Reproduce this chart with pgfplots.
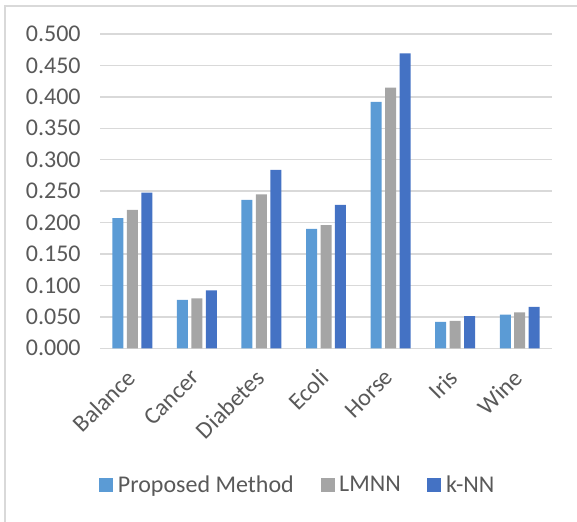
\documentclass[border=0pt]{standalone}
\usepackage{fontspec}
\setmainfont{Carlito}
\usepackage{pgfplots}
\pgfplotsset{compat=1.18}
\definecolor{cA}{HTML}{5B9BD5}
\definecolor{cB}{HTML}{A5A5A5}
\definecolor{cC}{HTML}{4472C4}
\definecolor{txt}{HTML}{595959}
\definecolor{gridc}{HTML}{D9D9D9}
\begin{document}
\begin{tikzpicture}
\useasboundingbox (0pt,0pt) rectangle (432.75pt,-390.75pt);
\draw[gridc, line width=1.2pt] (3.75pt,-400pt) -- (3.75pt,-4.5pt) -- (440pt,-4.5pt);
\begin{axis}[
  at={(75pt,-261.2pt)}, anchor=south west,
  scale only axis, width=339pt, height=235.7pt,
  ybar=2.6pt, bar width=8.25pt,
  xmin=-0.5, xmax=6.5, ymin=0, ymax=0.5,
  xtick={0,...,6},
  xticklabels={Balance,Cancer,Diabetes,Ecoli,Horse,Iris,Wine},
  ytick={0,0.05,...,0.5},
  axis line style={draw=none},
  major tick style={draw=none},
  ymajorgrids, grid style={gridc, line width=1pt},
  /pgf/number format/assume math mode=true,
  yticklabel={\pgfmathprintnumber[fixed,fixed zerofill,precision=3]{\tick}},
  yticklabel style={text=txt, font=\fontsize{18}{18}\selectfont, xshift=-11pt},
  xticklabel style={text=txt, font=\fontsize{18}{18}\selectfont, rotate=45, anchor=north east, xshift=-7.75pt, yshift=-0.1pt},
  legend style={at={(0.437,-0.435)}, anchor=center, draw=none, fill=none,
    legend columns=3, font=\fontsize{18}{18}\selectfont, text=txt,
    nodes={inner xsep=1pt},
    /tikz/every odd column/.append style={column sep=2.5pt},
    /tikz/every even column/.append style={column sep=19pt}},
  legend image code/.code={\fill[#1] (0pt,-5.25pt) rectangle (10.5pt,5.25pt);},
  legend cell align=left,
]
\addplot[fill=cA, draw=none] coordinates {(0,0.207) (1,0.077) (2,0.236) (3,0.190) (4,0.392) (5,0.042) (6,0.0535)};
\addplot[fill=cB, draw=none] coordinates {(0,0.220) (1,0.0795) (2,0.245) (3,0.196) (4,0.4146) (5,0.0435) (6,0.057)};
\addplot[fill=cC, draw=none] coordinates {(0,0.2475) (1,0.092) (2,0.284) (3,0.228) (4,0.469) (5,0.051) (6,0.066)};
\legend{Proposed Method, LMNN, k-NN}
\end{axis}
\end{tikzpicture}
\end{document}
